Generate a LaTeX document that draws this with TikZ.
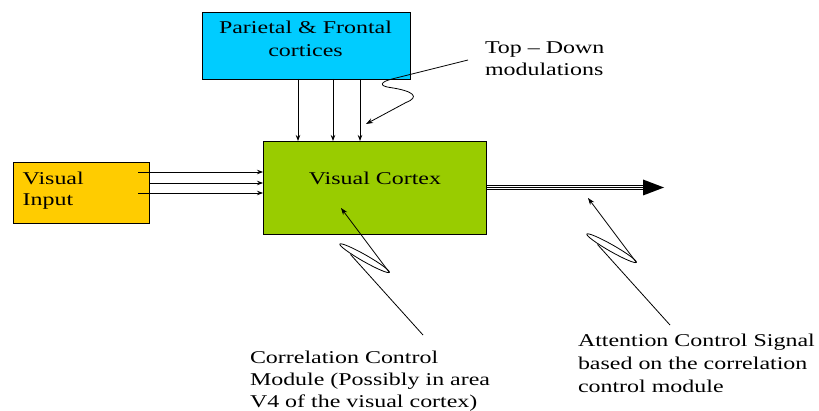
\documentclass[tikz,border=0pt]{standalone}
\usepackage{fontspec}
\setmainfont[FakeStretch=1.33]{Liberation Serif}
\usetikzlibrary{arrows.meta}
\definecolor{cortexcyan}{HTML}{00CCFF}
\definecolor{cortexgreen}{HTML}{99CC00}
\definecolor{inputorange}{HTML}{FFCC00}
\begin{document}
\begin{tikzpicture}[x=1pt,y=-1pt,
  box/.style={draw=black, line width=0.9pt, inner sep=0pt, outer sep=0pt, anchor=north west},
  lbl/.style={inner sep=0pt, outer sep=0pt, font=\fontsize{18}{22.5}\selectfont},
  feed/.style={line width=0.8pt, -{Stealth[length=6pt,width=4.5pt]}},
  callout/.style={line width=0.8pt, -{Stealth[length=7pt,width=5pt]}},
  loopline/.style={line width=0.8pt},
  tripleline/.style={line width=1pt}]
\useasboundingbox (0,0) rectangle (819,411);
\fill[white] (0,0) rectangle (819,411);

% boxes
\node[box, fill=cortexcyan, minimum width=208pt, minimum height=67pt] (pfc) at (202,12) {};
\node[box, fill=cortexgreen, minimum width=223pt, minimum height=93pt] (vc) at (263,141) {};
\node[box, fill=inputorange, minimum width=136pt, minimum height=61pt] (vi) at (13,162) {};

% box texts
\node[lbl, anchor=base, text width=200pt, align=center] (pfctext) at (305.5,34) {Parietal \& Frontal\\cortices};
\node[lbl, anchor=base] (vctext) at (375,185) {Visual Cortex};
\node[lbl, anchor=base west, text width=120pt, align=left, font=\fontsize{18}{21.5}\selectfont] (vitext) at (22.7,184.3) {Visual\\Input};

% top-down feeds
\coordinate (tdx1) at (298,0);
\coordinate (tdx2) at (333,0);
\coordinate (tdx3) at (360,0);
\foreach \c in {tdx1,tdx2,tdx3}
  \draw[feed] (\c |- pfc.south) -- (\c |- vc.north);

% visual input feeds
\coordinate (in1) at (138,172);
\coordinate (in2) at (149,183);
\coordinate (in3) at (138,193);
\foreach \c in {in1,in2,in3}
  \draw[feed] (\c) -- (\c -| vc.west);

% attention output signal
\coordinate (outend) at (643,187.5);
\foreach \dy in {-2,0,2}
  \draw[tripleline] ([yshift=\dy pt]vc.east) -- ([yshift=\dy pt]outend);
\fill (outend) ++(0,-8) -- ++(21,8) -- ++(-21,8) -- cycle;

% callout: top-down modulations
\coordinate (tdfoot) at (468,60);
\coordinate (tdtip) at (366,124);
\draw[callout] (tdfoot) -- (392,79) .. controls (380,82) and (379,86) .. (390,87.5)
  .. controls (414,91) and (420,97) .. (406,102.5) -- (tdtip);
\node[lbl, anchor=base west, text width=150pt, align=left, font=\fontsize{18}{22}\selectfont] (tdtext) at (485,54) {Top – Down\\modulations};

% callout: correlation control module (line, narrow loop, arrow)
\coordinate (corrfoot) at (423,335);
\coordinate (corrjoin) at (350.5,254.5);
\coordinate (corrloop) at (364.6,258.2);
\coordinate (corrend) at (389,272);
\coordinate (corrtip) at (341,208);
\draw[loopline] (corrfoot) -- (corrjoin);
\draw[loopline, shift={(corrloop)}, rotate=-29.7] (0,0) ellipse [x radius=28.5, y radius=3.3];
\draw[callout] (corrend) -- (corrtip);
\node[lbl, anchor=base west, text width=260pt, align=left, font=\fontsize{18}{22.3}\selectfont] (corrtext) at (250,363)
  {Correlation Control\\Module (Possibly in area\\V4 of the visual cortex)};

% callout: attention control signal (line, narrow loop, arrow)
\coordinate (attnfoot) at (670,325);
\coordinate (attnjoin) at (597.5,244.5);
\coordinate (attnloop) at (611.6,248.2);
\coordinate (attnend) at (636,262);
\coordinate (attntip) at (588,198);
\draw[loopline] (attnfoot) -- (attnjoin);
\draw[loopline, shift={(attnloop)}, rotate=-29.7] (0,0) ellipse [x radius=28.5, y radius=3.3];
\draw[callout] (attnend) -- (attntip);
\node[lbl, anchor=base west, text width=260pt, align=left, font=\fontsize{18}{23}\selectfont] (attntext) at (578,347)
  {Attention Control Signal\\based on the correlation\\control module};
\end{tikzpicture}
\end{document}
